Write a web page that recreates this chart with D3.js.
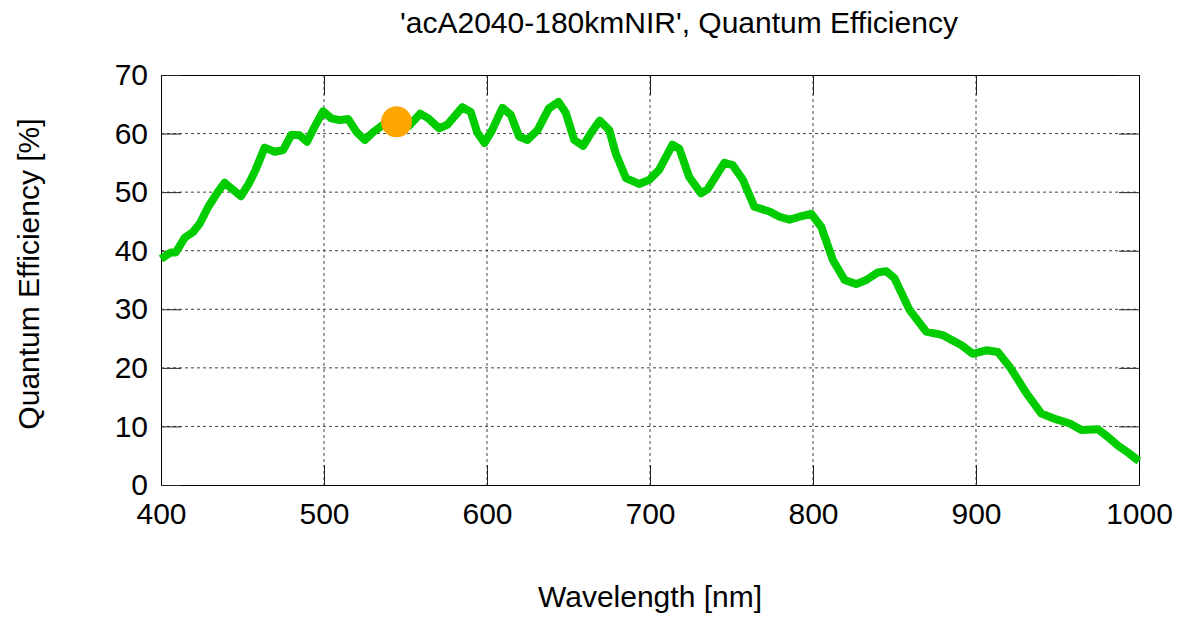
<!DOCTYPE html>
<html><head><meta charset="utf-8">
<script src="https://cdn.jsdelivr.net/npm/d3@7"></script>
<style>body{margin:0;background:#fff}svg{display:block}text{font-family:"Liberation Sans",Arial,sans-serif}</style>
</head><body>
<svg id="c" width="1177" height="618"></svg>
<script>
const title = "'acA2040-180kmNIR', Quantum Efficiency";
const xLabel = "Wavelength [nm]";
const yLabel = "Quantum Efficiency [%]";
const xTicks = [400,500,600,700,800,900,1000];
const yTicks = [0,10,20,30,40,50,60,70];
const wavelength = [400,406,409,414.5,419.7,423.9,429,435,439,449,454,458,463.6,469.8,475,480,485,489.6,494.3,499.4,504.5,509.7,514.8,519.9,525,530,536.3,544,552,559,564,570.6,575.6,584.9,590,594,598.5,603,609.5,614.6,619.7,624.8,631,638,643.9,648.4,653.5,659,664,669.2,675,679,685.2,693.3,699.5,705.6,713.8,718,724,731.3,735.4,745.6,750.8,757,764,773.3,779.4,785.6,791.7,798.9,805,812.2,819.4,826.5,832.7,839.8,845,850,859.2,869.4,879.6,884.8,890.9,898,906.3,913.4,920.6,930.9,940.1,949.3,957.5,964.7,974.9,981,987.2,993.4,998.5,1000];
const qe = [38.6,39.7,39.7,42.2,43.2,44.7,47.5,50.1,51.6,49.3,51.5,53.8,57.6,56.9,57.2,59.8,59.7,58.6,61.2,63.8,62.6,62.3,62.5,60.3,58.9,60.2,61.5,62.2,61.3,63.4,62.6,60.9,61.5,64.5,63.7,60.2,58.4,60.5,64.4,63.2,59.5,58.9,60.6,64.3,65.4,63.5,58.9,57.9,60.2,62.2,60.6,56.6,52.4,51.4,52.1,53.8,58.1,57.4,52.6,49.8,50.5,55.0,54.6,52.1,47.5,46.7,45.8,45.3,45.8,46.3,44.1,38.4,35.0,34.3,35.0,36.3,36.5,35.3,29.9,26.2,25.6,24.8,23.9,22.4,23.0,22.7,20.2,15.7,12.2,11.2,10.5,9.4,9.5,8.2,6.7,5.5,4.4,4.1];
const marker = {wavelength: 544.5, qe: 62.0};

const svg = d3.select("#c");
const m = {l:161, r:1139, t:75, b:485};
const x = d3.scaleLinear().domain([400,1000]).range([m.l,m.r]);
const y = d3.scaleLinear().domain([0,70]).range([m.b,m.t]);
const FS = 30;

// grid
const g = svg.append("g");
g.selectAll(".gx").data(xTicks.slice(1,-1)).join("line")
  .attr("x1",d=>x(d)).attr("x2",d=>x(d)).attr("y1",m.t).attr("y2",m.b)
  .attr("stroke","#444").attr("stroke-width",1).attr("stroke-dasharray","3,3");
g.selectAll(".gy").data(yTicks.slice(1,-1)).join("line")
  .attr("x1",m.l).attr("x2",m.r).attr("y1",d=>y(d)).attr("y2",d=>y(d))
  .attr("stroke","#444").attr("stroke-width",1).attr("stroke-dasharray","3,3");

// axes with inner ticks
const tl = 20;
const fmt = d3.format("d");
const ax = svg.append("g").attr("transform",`translate(0,${m.b})`)
  .call(d3.axisBottom(x).tickValues(xTicks).tickFormat(fmt).tickSizeInner(-tl).tickSizeOuter(0).tickPadding(18));
const axTop = svg.append("g").attr("transform",`translate(0,${m.t})`)
  .call(d3.axisTop(x).tickValues(xTicks).tickSizeInner(-tl).tickSizeOuter(0).tickFormat(""));
const ay = svg.append("g").attr("transform",`translate(${m.l},0)`)
  .call(d3.axisLeft(y).tickValues(yTicks).tickFormat(fmt).tickSizeInner(-tl).tickSizeOuter(0).tickPadding(13));
const ayR = svg.append("g").attr("transform",`translate(${m.r},0)`)
  .call(d3.axisRight(y).tickValues(yTicks).tickSizeInner(-tl).tickSizeOuter(0).tickFormat(""));
[ax,axTop,ay,ayR].forEach(a=>{
  a.select(".domain").attr("stroke","#000").attr("stroke-width",1);
  a.selectAll(".tick line").attr("stroke","#222");
  a.selectAll(".tick text").attr("font-size",FS).attr("fill","#000")
   .style("font-family",'"Liberation Sans",Arial,sans-serif');
});

// curve
const line = d3.line().x((d,i)=>x(wavelength[i])).y(d=>y(d)).curve(d3.curveLinear);
svg.append("path").datum(qe).attr("d",line).attr("fill","none")
  .attr("stroke","#00cc00").attr("stroke-width",8).attr("stroke-linejoin","round");

svg.append("circle").attr("cx",x(marker.wavelength)).attr("cy",y(marker.qe)).attr("r",15.5).attr("fill","#ffa500");

// texts
svg.append("text").attr("x",679).attr("y",33).attr("text-anchor","middle").attr("font-size",FS).text(title);
svg.append("text").attr("x",650).attr("y",607).attr("text-anchor","middle").attr("font-size",FS).text(xLabel);
svg.append("text").attr("transform","translate(39,274) rotate(-90)").attr("text-anchor","middle").attr("font-size",FS).text(yLabel);
</script>
</body></html>
